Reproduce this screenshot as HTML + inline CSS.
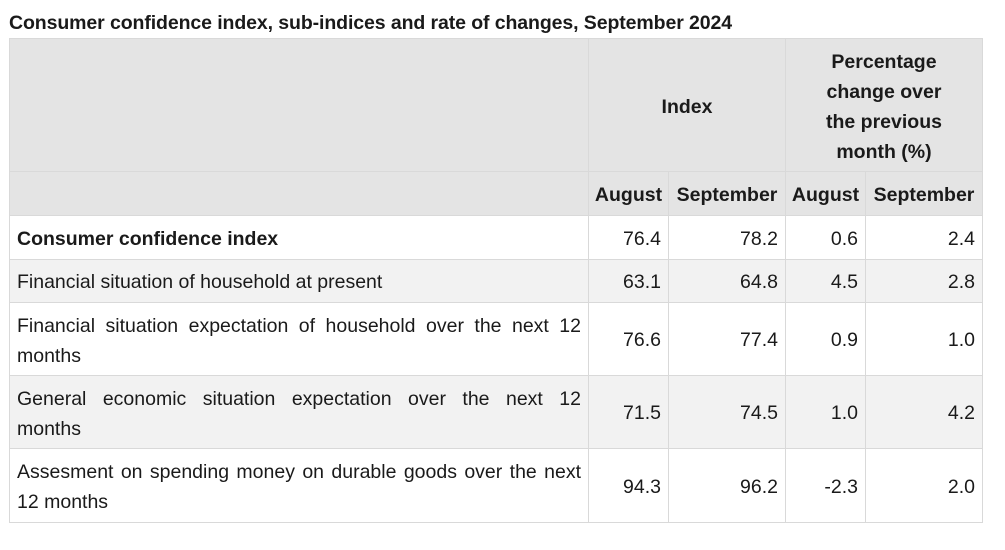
<!DOCTYPE html>
<html><head><meta charset="utf-8"><style>
*{margin:0;padding:0;box-sizing:border-box}
body{width:1005px;height:550px;background:#fff;font-family:"Liberation Sans","DejaVu Sans",sans-serif;color:#1a1a1a;position:relative;overflow:hidden}
.t{position:absolute;left:9px;top:12px;font-size:19.5px;font-weight:bold;white-space:nowrap;letter-spacing:-0.1px}
.c{position:absolute;border-right:1px solid #d9d9d9;border-bottom:1px solid #d9d9d9;font-size:19.5px;display:flex;align-items:center;padding:3px 7px 0 7px;white-space:nowrap}
.h{background:#e4e4e4;font-weight:bold;justify-content:center;text-align:center;line-height:30px}
.r{justify-content:flex-end}
.l{line-height:30px}
.j{text-align:justify;text-align-last:justify;width:100%}
.g{background:#f2f2f2}
.w{background:#fff}
.b{font-weight:bold}
</style></head><body>
<div class="t">Consumer confidence index, sub-indices and rate of changes, September 2024</div>
<div class="c h" style="left:9px;top:38px;width:580px;height:134px;border-left:1px solid #d9d9d9;border-top:1px solid #d9d9d9"></div>
<div class="c h" style="left:589px;top:38px;width:197px;height:134px;border-top:1px solid #d9d9d9">Index</div>
<div class="c h" style="left:786px;top:38px;width:197px;height:134px;border-top:1px solid #d9d9d9">Percentage<br>change over<br>the previous<br>month (%)</div>
<div class="c h" style="left:9px;top:172px;width:580px;height:44px;border-left:1px solid #d9d9d9"></div>
<div class="c h" style="left:589px;top:172px;width:80px;height:44px;padding:3px 0 0 0">August</div>
<div class="c h" style="left:669px;top:172px;width:117px;height:44px;padding:3px 0 0 0">September</div>
<div class="c h" style="left:786px;top:172px;width:80px;height:44px;padding:3px 0 0 0">August</div>
<div class="c h" style="left:866px;top:172px;width:117px;height:44px;padding:3px 0 0 0">September</div>

<div class="c w b" style="left:9px;top:216px;width:580px;height:44px;border-left:1px solid #d9d9d9">Consumer confidence index</div>
<div class="c w r" style="left:589px;top:216px;width:80px;height:44px">76.4</div>
<div class="c w r" style="left:669px;top:216px;width:117px;height:44px">78.2</div>
<div class="c w r" style="left:786px;top:216px;width:80px;height:44px">0.6</div>
<div class="c w r" style="left:866px;top:216px;width:117px;height:44px">2.4</div>

<div class="c g" style="left:9px;top:260px;width:580px;height:43px;border-left:1px solid #d9d9d9">Financial situation of household at present</div>
<div class="c g r" style="left:589px;top:260px;width:80px;height:43px">63.1</div>
<div class="c g r" style="left:669px;top:260px;width:117px;height:43px">64.8</div>
<div class="c g r" style="left:786px;top:260px;width:80px;height:43px">4.5</div>
<div class="c g r" style="left:866px;top:260px;width:117px;height:43px">2.8</div>

<div class="c w l" style="left:9px;top:303px;width:580px;height:73px;border-left:1px solid #d9d9d9"><div style="width:100%"><div class="j">Financial situation expectation of household over the next 12</div><div>months</div></div></div>
<div class="c w r" style="left:589px;top:303px;width:80px;height:73px">76.6</div>
<div class="c w r" style="left:669px;top:303px;width:117px;height:73px">77.4</div>
<div class="c w r" style="left:786px;top:303px;width:80px;height:73px">0.9</div>
<div class="c w r" style="left:866px;top:303px;width:117px;height:73px">1.0</div>

<div class="c g l" style="left:9px;top:376px;width:580px;height:73px;border-left:1px solid #d9d9d9"><div style="width:100%"><div class="j">General economic situation expectation over the next 12</div><div>months</div></div></div>
<div class="c g r" style="left:589px;top:376px;width:80px;height:73px">71.5</div>
<div class="c g r" style="left:669px;top:376px;width:117px;height:73px">74.5</div>
<div class="c g r" style="left:786px;top:376px;width:80px;height:73px">1.0</div>
<div class="c g r" style="left:866px;top:376px;width:117px;height:73px">4.2</div>

<div class="c w l" style="left:9px;top:449px;width:580px;height:74px;border-left:1px solid #d9d9d9"><div style="width:100%"><div class="j">Assesment on spending money on durable goods over the next</div><div>12 months</div></div></div>
<div class="c w r" style="left:589px;top:449px;width:80px;height:74px">94.3</div>
<div class="c w r" style="left:669px;top:449px;width:117px;height:74px">96.2</div>
<div class="c w r" style="left:786px;top:449px;width:80px;height:74px">-2.3</div>
<div class="c w r" style="left:866px;top:449px;width:117px;height:74px">2.0</div>
</body></html>
